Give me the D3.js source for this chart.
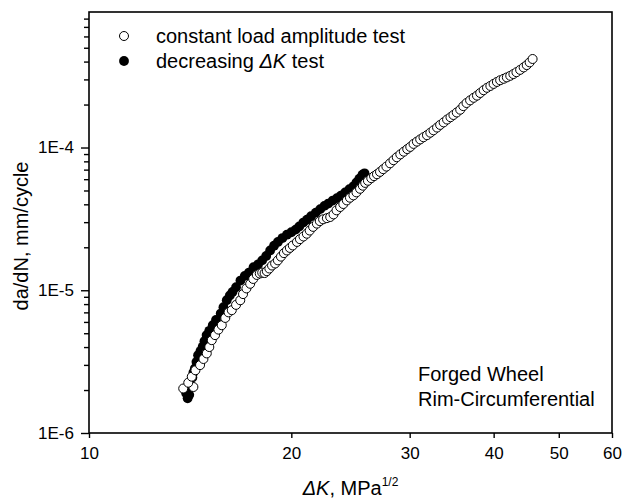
<!DOCTYPE html>
<html>
<head>
<meta charset="utf-8">
<script src="https://cdn.jsdelivr.net/npm/d3@7"></script>
<style>
  body { margin: 0; background: #fff; }
  text { font-family: "Liberation Sans", Arial, sans-serif; fill: #000; }
</style>
</head>
<body>
<script>

var width = 622;
var height = 499;
var margin = {top: 12, right: 10, bottom: 66, left: 89};

// constant load amplitude test (open circles)
var constDK = [13.81, 14.30, 14.05, 14.22, 14.40, 14.63, 14.80, 14.97, 15.10, 15.23,
  15.40, 15.58, 15.76, 15.95, 16.13, 16.31, 16.55, 16.79, 16.95, 17.15,
  17.37, 17.55, 17.77, 17.95, 18.10, 18.25, 18.39, 18.55, 18.72, 18.92,
  19.10, 19.30, 19.50, 19.70, 19.90, 20.10, 20.39, 20.60, 20.85, 21.09,
  21.30, 21.55, 21.83, 22.05, 22.30, 22.59, 22.85, 23.11, 23.35, 23.64,
  23.90, 24.19, 24.45, 24.74, 25.00, 25.31, 25.55, 25.76, 26.00, 26.30,
  26.55, 26.82, 27.10, 27.40, 27.70, 28.05, 28.38, 28.70, 29.05, 29.40,
  29.75, 30.06, 30.40, 30.75, 31.10, 31.45, 31.83, 32.20, 32.55, 32.95,
  33.30, 33.70, 34.10, 34.50, 34.85, 35.25, 35.67, 36.05, 36.45, 36.90,
  37.35, 37.78, 38.20, 38.65, 39.10, 39.55, 39.99, 40.45, 40.90, 41.40,
  41.85, 42.34, 42.80, 43.25, 43.80, 44.33, 44.80, 45.25, 45.71];
var constRate = [2.05e-6, 2.10e-6, 2.25e-6, 2.48e-6, 2.75e-6, 2.99e-6, 3.30e-6, 3.61e-6, 4.00e-6, 4.47e-6,
  4.85e-6, 5.30e-6, 5.69e-6, 6.40e-6, 7.00e-6, 7.25e-6, 7.90e-6, 8.51e-6, 9.40e-6, 1.03e-5,
  1.11e-5, 1.20e-5, 1.28e-5, 1.31e-5, 1.33e-5, 1.32e-5, 1.36e-5, 1.42e-5, 1.49e-5, 1.54e-5,
  1.62e-5, 1.72e-5, 1.82e-5, 1.90e-5, 1.98e-5, 2.06e-5, 2.18e-5, 2.28e-5, 2.38e-5, 2.49e-5,
  2.62e-5, 2.78e-5, 2.93e-5, 3.05e-5, 3.14e-5, 3.20e-5, 3.26e-5, 3.40e-5, 3.63e-5, 3.83e-5,
  4.02e-5, 4.26e-5, 4.45e-5, 4.62e-5, 4.85e-5, 5.14e-5, 5.40e-5, 5.65e-5, 5.85e-5, 6.10e-5,
  6.30e-5, 6.50e-5, 6.75e-5, 7.05e-5, 7.35e-5, 7.75e-5, 8.15e-5, 8.55e-5, 8.95e-5, 9.35e-5,
  9.75e-5, 1.01e-4, 1.06e-4, 1.10e-4, 1.14e-4, 1.18e-4, 1.22e-4, 1.27e-4, 1.32e-4, 1.38e-4,
  1.44e-4, 1.50e-4, 1.57e-4, 1.63e-4, 1.69e-4, 1.76e-4, 1.84e-4, 1.95e-4, 2.05e-4, 2.14e-4,
  2.23e-4, 2.31e-4, 2.41e-4, 2.52e-4, 2.62e-4, 2.70e-4, 2.79e-4, 2.88e-4, 2.96e-4, 3.03e-4,
  3.10e-4, 3.18e-4, 3.27e-4, 3.37e-4, 3.50e-4, 3.64e-4, 3.78e-4, 3.95e-4, 4.17e-4];

// decreasing dK test (filled circles)
var decrDK = [14.02, 13.95, 14.10, 14.05, 14.13, 14.25, 14.30, 14.37, 14.45, 14.53,
  14.65, 14.76, 14.85, 14.96, 15.10, 15.28, 15.45, 15.70, 15.85, 16.03,
  16.20, 16.35, 16.55, 16.80, 17.05, 17.30, 17.57, 17.85, 18.10, 18.35,
  18.60, 18.85, 19.10, 19.40, 19.70, 20.00, 20.30, 20.55, 20.84, 21.10,
  21.40, 21.75, 22.08, 22.40, 22.70, 23.05, 23.38, 23.70, 24.05, 24.40,
  24.74, 25.00, 25.25, 25.52, 25.70];
var decrRate = [1.75e-6, 1.90e-6, 1.85e-6, 2.05e-6, 2.17e-6, 2.45e-6, 2.65e-6, 2.83e-6, 3.15e-6, 3.51e-6,
  3.75e-6, 4.02e-6, 4.40e-6, 4.85e-6, 5.20e-6, 5.69e-6, 6.20e-6, 6.87e-6, 7.60e-6, 8.51e-6,
  9.20e-6, 9.73e-6, 1.05e-5, 1.17e-5, 1.26e-5, 1.33e-5, 1.45e-5, 1.52e-5, 1.62e-5, 1.74e-5,
  1.90e-5, 2.05e-5, 2.18e-5, 2.32e-5, 2.45e-5, 2.55e-5, 2.66e-5, 2.80e-5, 2.98e-5, 3.12e-5,
  3.30e-5, 3.50e-5, 3.70e-5, 3.90e-5, 4.05e-5, 4.25e-5, 4.42e-5, 4.60e-5, 4.85e-5, 5.10e-5,
  5.35e-5, 5.70e-5, 6.05e-5, 6.45e-5, 6.60e-5];

var xTicks = [10, 20, 30, 40, 50, 60];
var yTicks = [1e-6, 1e-5, 1e-4];
var yTickLabels = ['1E-6', '1E-5', '1E-4'];
var legendLabels = ['constant load amplitude test', 'decreasing ΔK test'];
var noteLines = ['Forged Wheel', 'Rim-Circumferential'];

var svg = d3.select('body').append('svg')
  .attr('width', width)
  .attr('height', height);

var x = d3.scaleLog()
  .domain([10, 60])
  .range([margin.left, width - margin.right]);
var y = d3.scaleLog()
  .domain([1e-6, 8.9e-4])
  .range([height - margin.bottom, margin.top]);

// minor ticks on y: 2..9 in each decade
var yMinor = [];
yTicks.forEach(function (d) {
  for (var m = 2; m <= 9; m++) {
    if (d * m <= y.domain()[1]) yMinor.push(d * m);
  }
});

// frame
svg.append('rect')
  .attr('x', x.range()[0])
  .attr('y', y.range()[1])
  .attr('width', x.range()[1] - x.range()[0])
  .attr('height', y.range()[0] - y.range()[1])
  .style('fill', 'none')
  .style('stroke', '#000')
  .style('stroke-width', 1.6);

var xAxis = svg.append('g')
  .attr('transform', 'translate(0,' + y.range()[0] + ')')
  .call(d3.axisBottom(x).tickValues(xTicks).tickFormat(d3.format('d'))
    .tickSize(5).tickPadding(9).tickSizeOuter(0));

var yAxis = svg.append('g')
  .attr('transform', 'translate(' + x.range()[0] + ',0)')
  .call(d3.axisLeft(y).tickValues(yTicks)
    .tickFormat(function (d, i) { return yTickLabels[i]; })
    .tickSize(8).tickPadding(7).tickSizeOuter(0));

var yMinorAxis = svg.append('g')
  .attr('transform', 'translate(' + x.range()[0] + ',0)')
  .call(d3.axisLeft(y).tickValues(yMinor).tickFormat('').tickSize(5).tickSizeOuter(0));

[xAxis, yAxis, yMinorAxis].forEach(function (g) {
  g.select('.domain').remove();
  g.selectAll('line').style('stroke', '#000').style('stroke-width', 1.4);
  g.selectAll('text')
    .style('font-family', '"Liberation Sans", Arial, sans-serif')
    .style('font-size', '17px')
    .style('fill', '#000');
});

// data
var constData = constDK.map(function (d, i) { return [d, constRate[i]]; });
var decrData = decrDK.map(function (d, i) { return [d, decrRate[i]]; });

svg.append('g').selectAll('circle')
  .data(decrData)
  .enter()
  .append('circle')
  .attr('cx', function (d) { return x(d[0]); })
  .attr('cy', function (d) { return y(d[1]); })
  .attr('r', 4.9)
  .style('fill', '#000');

svg.append('g').selectAll('circle')
  .data(constData)
  .enter()
  .append('circle')
  .attr('cx', function (d) { return x(d[0]); })
  .attr('cy', function (d) { return y(d[1]); })
  .attr('r', 4.5)
  .style('fill', '#fff')
  .style('stroke', '#000')
  .style('stroke-width', 1);

// legend
var legend = svg.append('g');
legend.append('circle')
  .attr('cx', 124).attr('cy', 36).attr('r', 4.5)
  .style('fill', '#fff').style('stroke', '#000').style('stroke-width', 1);
legend.append('circle')
  .attr('cx', 124).attr('cy', 61).attr('r', 4.9)
  .style('fill', '#000');
legend.append('text')
  .attr('x', 156).attr('y', 43)
  .style('font-size', '20px')
  .text(legendLabels[0]);
var l2 = legend.append('text')
  .attr('x', 156).attr('y', 68)
  .style('font-size', '20px');
l2.append('tspan').text(legendLabels[1].split('ΔK')[0]);
l2.append('tspan').style('font-style', 'italic').text('ΔK');
l2.append('tspan').text(legendLabels[1].split('ΔK')[1]);

// note
svg.append('g').selectAll('text')
  .data(noteLines)
  .enter()
  .append('text')
  .attr('x', 418)
  .attr('y', function (d, i) { return 381 + i * 25; })
  .style('font-size', '20px')
  .text(function (d) { return d; });

// axis titles
var xt = svg.append('text')
  .attr('x', (x.range()[0] + x.range()[1]) / 2)
  .attr('y', 495)
  .style('font-size', '20px')
  .style('text-anchor', 'middle');
xt.append('tspan').style('font-style', 'italic').text('ΔK');
xt.append('tspan').text(', MPa');
xt.append('tspan').attr('dy', -9).style('font-size', '12px').text('1/2');

svg.append('text')
  .attr('transform', 'translate(28,236) rotate(-90)')
  .style('font-size', '20px')
  .style('text-anchor', 'middle')
  .text('da/dN, mm/cycle');

</script>
</body>
</html>
